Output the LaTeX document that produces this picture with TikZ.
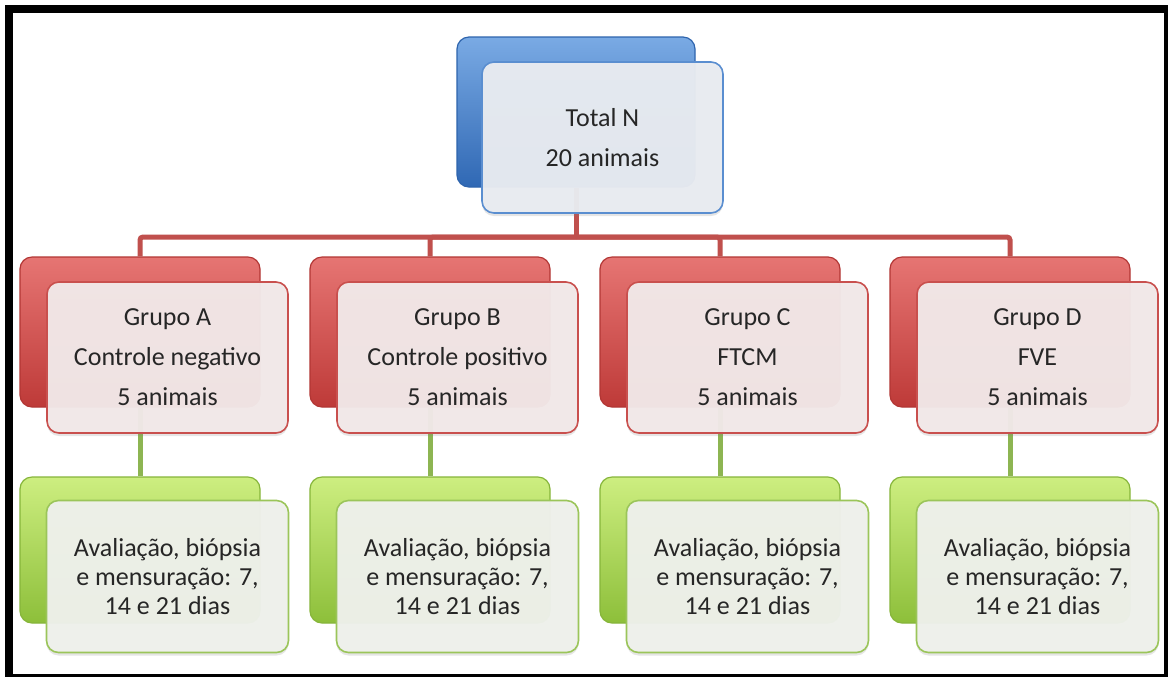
\documentclass[tikz,border=0pt]{standalone}
\usepackage{fontspec}
\setmainfont{Carlito}
\usetikzlibrary{backgrounds,shadows}

\definecolor{BlueTop}{HTML}{7AAAE4}
\definecolor{BlueBase}{HTML}{3A7AC9}
\definecolor{BlueBot}{HTML}{2F68B4}
\definecolor{BlueEdge}{HTML}{2E64AD}
\definecolor{BlueLine}{HTML}{5A8ED0}
\definecolor{BlueFill}{HTML}{E9ECF1}
\definecolor{RedTop}{HTML}{E67573}
\definecolor{RedBase}{HTML}{D04442}
\definecolor{RedBot}{HTML}{BE3A38}
\definecolor{RedEdge}{HTML}{B23634}
\definecolor{RedLine}{HTML}{C9504E}
\definecolor{RedFill}{HTML}{F2E9E9}
\definecolor{GreenTop}{HTML}{CDEE80}
\definecolor{GreenBase}{HTML}{A2D04C}
\definecolor{GreenBot}{HTML}{8DBF3A}
\definecolor{GreenEdge}{HTML}{86B53A}
\definecolor{GreenLine}{HTML}{9BC55A}
\definecolor{GreenFill}{HTML}{EFF1EC}
\definecolor{TextGray}{HTML}{262626}
\definecolor{BusRed}{HTML}{C0504D}
\definecolor{BusGreen}{HTML}{8DB552}

\tikzset{
	backbox/.style={rectangle, rounded corners=6pt, inner sep=0pt, line width=0.6pt},
	blueback/.style={backbox, draw=BlueEdge, top color=BlueTop, middle color=BlueBase, bottom color=BlueBot, minimum width=119pt, minimum height=75pt},
	redback/.style={backbox, draw=RedEdge, top color=RedTop, middle color=RedBase, bottom color=RedBot, minimum width=120pt, minimum height=75pt},
	greenback/.style={backbox, draw=GreenEdge, top color=GreenTop, middle color=GreenBase, bottom color=GreenBot, minimum width=120pt, minimum height=73pt},
	frontbox/.style={rectangle, rounded corners=6pt, inner sep=0pt, line width=0.8pt, align=center,
		text=TextGray, fill opacity=0.96, text opacity=1,
		drop shadow={opacity=0.2, shadow xshift=0pt, shadow yshift=-1.5pt}},
	bluefront/.style={frontbox, draw=BlueLine, fill=BlueFill, minimum width=120.5pt, minimum height=75.5pt,
		font=\fontsize{13}{20}\selectfont},
	redfront/.style={frontbox, draw=RedLine, fill=RedFill, minimum width=120.5pt, minimum height=75.5pt,
		font=\fontsize{13}{20}\selectfont},
	greenfront/.style={frontbox, draw=GreenLine, fill=GreenFill, minimum width=121pt, minimum height=76pt,
		font=\fontsize{13}{14.5}\selectfont},
	redbus/.style={draw=BusRed, line width=2.5pt, rounded corners=1.5pt},
	greenbus/.style={draw=BusGreen, line width=2.5pt},
}

\begin{document}
\begin{tikzpicture}[x=0.5pt, y=-0.5pt]
	\useasboundingbox (0,0) rectangle (1169,677);
	
	%Frame
	\begin{scope}[on background layer]
		\fill[black] (5,5) rectangle (1168,677);
		\fill[white] (13,13) rectangle (1164,674);
	\end{scope}
	
	%Total
	\node[blueback] (topback) at (576,112) {};
	\node[bluefront] (total) at (602.5,137.5) {Total N\\20 animais};
	
	%Grupo A
	\def\x{0}
	\node[redback] (rA) at (140+\x,332) {};
	\node[redfront] (grA) at (167.5+\x,357.5) {Grupo A\\Controle negativo\\5 animais};
	\node[greenback] (gA) at (140+\x,550) {};
	\node[greenfront] (avA) at (167.5+\x,576.5) {Avaliação, biópsia\\e mensuração: 7,\\14 e 21 dias};
	
	%Grupo B
	\def\x{290}
	\node[redback] (rB) at (140+\x,332) {};
	\node[redfront] (grB) at (167.5+\x,357.5) {Grupo B\\Controle positivo\\5 animais};
	\node[greenback] (gB) at (140+\x,550) {};
	\node[greenfront] (avB) at (167.5+\x,576.5) {Avaliação, biópsia\\e mensuração: 7,\\14 e 21 dias};
	
	%Grupo C
	\def\x{580}
	\node[redback] (rC) at (140+\x,332) {};
	\node[redfront] (grC) at (167.5+\x,357.5) {Grupo C\\FTCM\\5 animais};
	\node[greenback] (gC) at (140+\x,550) {};
	\node[greenfront] (avC) at (167.5+\x,576.5) {Avaliação, biópsia\\e mensuração: 7,\\14 e 21 dias};
	
	%Grupo D
	\def\x{870}
	\node[redback] (rD) at (140+\x,332) {};
	\node[redfront] (grD) at (167.5+\x,357.5) {Grupo D\\FVE\\5 animais};
	\node[greenback] (gD) at (140+\x,550) {};
	\node[greenfront] (avD) at (167.5+\x,576.5) {Avaliação, biópsia\\e mensuração: 7,\\14 e 21 dias};
	
	%Connectors
	\begin{scope}[on background layer]
		\coordinate (bus) at (576,237);
		\draw[redbus] (topback.south) -- (bus);
		\draw[redbus] (rA.north) |- (bus) -| (rD.north);
		\draw[redbus] (bus) -| (rB.north);
		\draw[redbus] (bus) -| (rC.north);
		\draw[greenbus] (rA.south) -- (gA.north);
		\draw[greenbus] (rB.south) -- (gB.north);
		\draw[greenbus] (rC.south) -- (gC.north);
		\draw[greenbus] (rD.south) -- (gD.north);
	\end{scope}
\end{tikzpicture}
\end{document}
